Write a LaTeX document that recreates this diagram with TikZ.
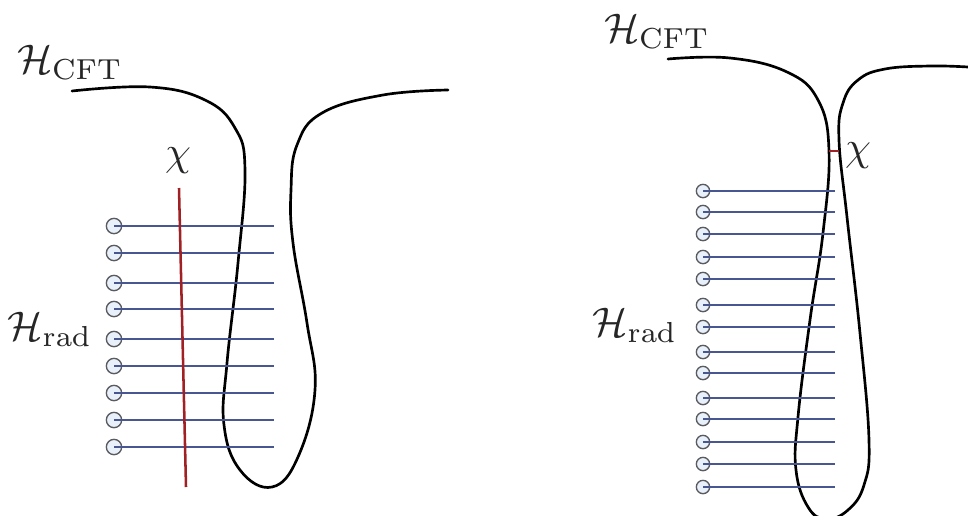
\documentclass[tikz,border=0pt]{standalone}
\definecolor{rayblue}{RGB}{72,86,146}
\definecolor{chired}{RGB}{160,32,36}
\definecolor{portgray}{RGB}{90,90,95}
\definecolor{portfill}{RGB}{232,240,250}
\begin{document}
\begin{tikzpicture}[x=0.75pt,y=-0.75pt,
  curve/.style={line width=2pt,black,line cap=round},
  ray/.style={line width=2pt,rayblue},
  chiline/.style={line width=1.9pt,chired},
  port/.style={circle,draw=portgray,fill=portfill,line width=1pt,inner sep=0pt},
  lbl/.style={scale=3.1,text=black!85,inner sep=0pt}]
\useasboundingbox (0,0) rectangle (968,515);
\begin{scope}
\clip (0,0) rectangle (968,515);
% ---------- left panel ----------
\draw[curve] plot[smooth,tension=0.7] coordinates {
 (72,91) (150,87) (205,100) (235,128) (245,170) (238,263) (227,363) (224,425)
 (240,470) (272,487) (298,457) (315,390) (307,323) (293,243) (291,190) (297,145)
 (322,113) (383,95) (448,90)};
\foreach \y [count=\i] in {226,253,283,309,339,366,393,420,447}{
  \node[port,minimum size=11.5pt] (L\i) at (114,\y) {};
  \coordinate (LE\i) at (274,\y);
  \draw[ray] (L\i.center) -- (LE\i);
}
\coordinate (chiLt) at (179,188);
\coordinate (chiLb) at (186,487);
\draw[chiline] (chiLt) -- (chiLb);
\node[lbl] (chiL) at (178,161) {$\chi$};
\node[lbl] (cftL) at (70,62) {$\mathcal{H}_{\mathrm{CFT}}$};
\node[lbl] (radL) at (50,329) {$\mathcal{H}_{\mathrm{rad}}$};
% ---------- right panel ----------
\draw[curve] plot[smooth,tension=0.7] coordinates {
 (668,59) (730,58) (787,72) (818,100) (829,151) (823,233) (810,320) (798,417)
 (796,470) (808,507) (826,519) (848,510) (864,485) (869,440) (860,333) (847,217)
 (839,140) (843,103) (858,80) (885,69) (930,66) (968,67)};
\foreach \y [count=\i] in {191,212,234,257,279,305,327,352,373,398,419,442,464,487}{
  \node[port,minimum size=10pt] (R\i) at (703,\y) {};
  \coordinate (RE\i) at (835,\y);
  \draw[ray] (R\i.center) -- (RE\i);
}
\coordinate (chiRa) at (829,151);
\coordinate (chiRb) at (839,151);
\draw[chiline] (chiRa) -- (chiRb);
\node[lbl] (chiR) at (858,156) {$\chi$};
\node[lbl] (cftR) at (657,31) {$\mathcal{H}_{\mathrm{CFT}}$};
\node[lbl] (radR) at (635,325) {$\mathcal{H}_{\mathrm{rad}}$};
\end{scope}
\end{tikzpicture}
\end{document}
